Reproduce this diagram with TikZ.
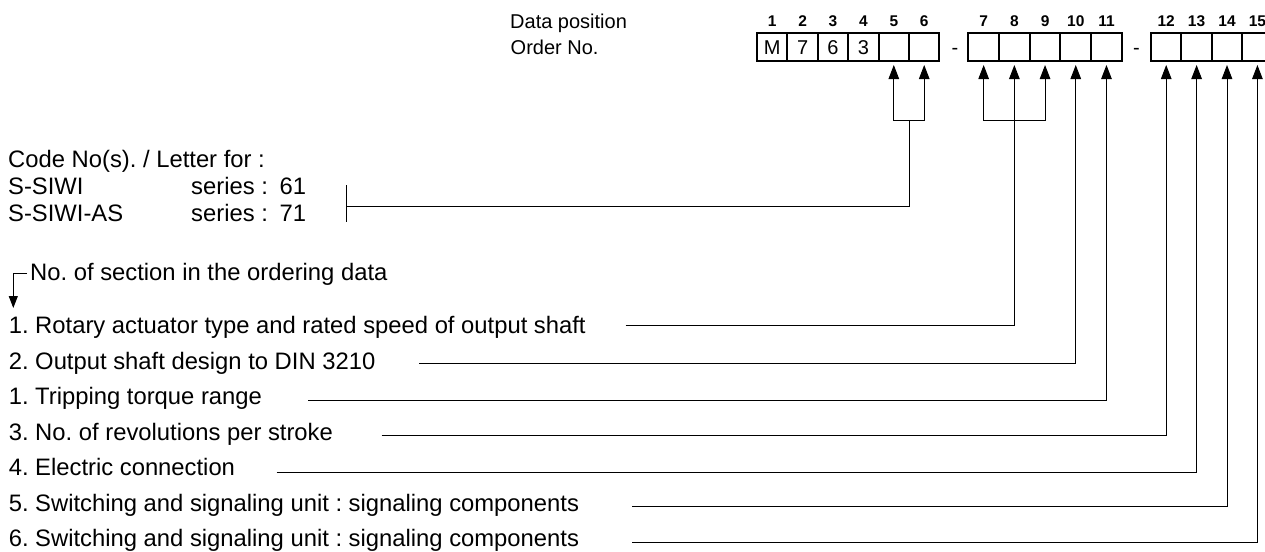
\documentclass[tikz,border=0pt]{standalone}
\usepackage{fontspec}
\setmainfont{Liberation Sans}
\usetikzlibrary{arrows.meta}
\frenchspacing
\begin{document}
\begin{tikzpicture}[x=1pt,y=-1pt,
  txt/.style={inner sep=0pt, anchor=base west, font=\fontsize{23.8}{28}\selectfont},
  stxt/.style={inner sep=0pt, anchor=base west, font=\fontsize{20}{24}\selectfont},
  cell/.style={draw, line width=2pt, minimum width=30.4pt, minimum height=27.7pt, inner sep=0pt, font=\fontsize{20}{24}\selectfont},
  wcell/.style={cell, minimum width=30.7pt},
  num/.style={inner sep=0pt, anchor=base, font=\fontsize{15.5}{18}\selectfont\bfseries},
  conn/.style={line width=1pt},
  arr/.style={conn, -{Triangle[length=14pt,width=10.5pt]}},
  darr/.style={conn, {Triangle[length=14pt,width=10.5pt]}-{Triangle[length=14pt,width=10.5pt]}},
]
\useasboundingbox (0,0) rectangle (1265,551);
\fill[white] (0,0) rectangle (1265,551);
\clip (0,0) rectangle (1265,551);

% header texts
\node[stxt] (dp) at (510,28.3) {Data position};
\node[stxt] (on) at (510.5,54.3) {Order No.};

% cells group 1
\node[cell] (c1) at (772.2,47.15) {M};
\node[cell] (c2) at (802.6,47.15) {7};
\node[cell] (c3) at (833.0,47.15) {6};
\node[cell] (c4) at (863.4,47.15) {3};
\node[cell] (c5) at (893.8,47.15) {};
\node[cell] (c6) at (924.2,47.15) {};
\node[stxt, anchor=base] (d1) at (955,54.3) {-};
% cells group 2
\node[wcell] (c7) at (983.65,47.15) {};
\node[wcell] (c8) at (1014.35,47.15) {};
\node[wcell] (c9) at (1045.05,47.15) {};
\node[wcell] (c10) at (1075.75,47.15) {};
\node[wcell] (c11) at (1106.45,47.15) {};
\node[stxt, anchor=base] (d2) at (1136.5,54.3) {-};
% cells group 3
\node[cell] (c12) at (1166.2,47.15) {};
\node[cell] (c13) at (1196.6,47.15) {};
\node[cell] (c14) at (1227.0,47.15) {};
\node[cell] (c15) at (1257.4,47.15) {};

% position numbers
\coordinate (numrow) at (0,26.7);
\foreach \i in {1,...,15} {
  \node[num] (n\i) at (c\i |- numrow) {\i};
}

% arrow tips
\foreach \i in {5,...,15} {
  \coordinate (t\i) at ([yshift=-3pt]c\i.south);
}

% code texts
\node[txt] (code) at (8,167.7) {Code No(s). / Letter for :};
\node[txt] (s61) at (8,194.3) {S-SIWI};
\node[txt] (ser61) at (191,194.3) {series :};
\node[txt] (v61) at (279.5,194.3) {61};
\node[txt] (s71) at (8,221) {S-SIWI-AS};
\node[txt] (ser71) at (191,221) {series :};
\node[txt] (v71) at (279.5,221) {71};

% bracket for 5/6
\coordinate (j1) at (909,120);
\coordinate (bar) at (346,206.7);
\coordinate (bartop) at (346,185);
\coordinate (barbot) at (346,221.7);
\draw[arr] (j1) -| (t5);
\draw[arr] (j1) -| (t6);
\draw[conn] (j1) |- (bar);
\draw[conn] (bartop) -- (barbot);

% bracket for 7/9
\coordinate (brk) at (0,120);
\draw[darr] (t7) |- (t9 |- brk) -- (t9);

% section note
\node[txt] (nsec) at (30,280) {No. of section in the ordering data};
\coordinate (dtip) at (13.3,308);
\draw[conn, -{Triangle[length=12pt,width=9pt]}] ([xshift=-3pt]nsec.west) -| (dtip);

% items
\node[txt] (i1) at (8.6,333.5) {1. Rotary actuator type and rated speed of output shaft};
\node[txt] (i2) at (8.6,369.0) {2. Output shaft design to DIN 3210};
\node[txt] (i3) at (8.6,404.6) {1. Tripping torque range};
\node[txt] (i4) at (8.6,440.2) {3. No. of revolutions per stroke};
\node[txt] (i5) at (8.6,475.7) {4. Electric connection};
\node[txt] (i6) at (8.6,511.3) {5. Switching and signaling unit : signaling components};
\node[txt] (i7) at (8.6,546.8) {6. Switching and signaling unit : signaling components};

% connector starts
\coordinate (s1) at (625.7,325.7);
\coordinate (s2) at (419.3,363.5);
\coordinate (s3) at (308.3,400);
\coordinate (s4) at (381.7,435.3);
\coordinate (s5) at (276.7,472);
\coordinate (s6) at (632.3,506.7);
\coordinate (s7) at (632.3,542.7);
\draw[arr] (s1) -| (t8);
\draw[arr] (s2) -| (t10);
\draw[arr] (s3) -| (t11);
\draw[arr] (s4) -| (t12);
\draw[arr] (s5) -| (t13);
\draw[arr] (s6) -| (t14);
\draw[arr] (s7) -| (t15);
\end{tikzpicture}
\end{document}
